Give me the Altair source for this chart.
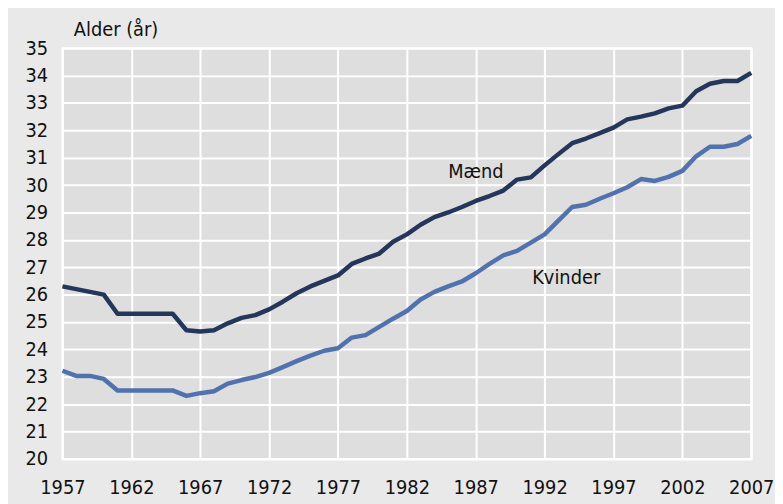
import altair as alt
import pandas as pd

years = list(range(1957, 2008))
maend = [26.3, 26.2, 26.1, 26.0, 25.3, 25.3, 25.3, 25.3, 25.3, 24.7,
         24.65, 24.7, 24.95, 25.15, 25.25, 25.46, 25.74, 26.05, 26.3, 26.5,
         26.7, 27.12, 27.32, 27.5, 27.93, 28.2, 28.55, 28.83, 29.0, 29.2,
         29.42, 29.6, 29.8, 30.2, 30.28, 30.72, 31.13, 31.53, 31.7, 31.9,
         32.1, 32.4, 32.5, 32.62, 32.8, 32.9, 33.43, 33.7, 33.8, 33.8, 34.1]
kvinder = [23.22, 23.03, 23.03, 22.92, 22.5, 22.5, 22.5, 22.5, 22.5, 22.3,
           22.4, 22.47, 22.75, 22.88, 22.99, 23.14, 23.35, 23.57, 23.77, 23.95,
           24.04, 24.43, 24.52, 24.82, 25.12, 25.4, 25.82, 26.1, 26.3, 26.48,
           26.78, 27.12, 27.43, 27.6, 27.9, 28.2, 28.7, 29.2, 29.28, 29.5,
           29.7, 29.92, 30.22, 30.15, 30.3, 30.52, 31.05, 31.4, 31.4, 31.5, 31.8]

series_names = ["Mænd", "Kvinder"]
series_colors = ["#24365a", "#5172ad"]
label_x = [1985.0, 1991.1]
label_y = [30.48, 26.6]
x_ticks = list(range(1957, 2008, 5))
y_ticks = list(range(20, 36))

FONT = "Liberation Sans Narrow, DejaVu Sans Condensed, sans-serif"

df = pd.DataFrame({
    "year": years * 2,
    "value": maend + kvinder,
    "serie": [series_names[0]] * len(years) + [series_names[1]] * len(years),
})
labels = pd.DataFrame({"year": label_x, "value": label_y, "text": series_names})

x_axis = alt.Axis(values=x_ticks, format="d", title=None, ticks=False, domain=False,
                  labelFlush=False, labelPadding=19, labelBaseline="top",
                  labelOverlap=False, grid=True, tickCount=len(x_ticks))
y_axis = alt.Axis(values=y_ticks, title="Alder (år)", ticks=False, domain=False,
                  labelPadding=15, grid=True, titleAngle=0, titleX=11, titleY=-13,
                  labelOverlap=False, labelFlush=False, tickCount=len(y_ticks),
                  titleAlign="left", titleBaseline="alphabetic")
x_scale = alt.Scale(domain=[1957, 2007], nice=False, zero=False)
y_scale = alt.Scale(domain=[20, 35], nice=False, zero=False)

lines = alt.Chart(df).mark_line(strokeWidth=4.5, strokeJoin="round").encode(
    x=alt.X("year:Q", scale=x_scale, axis=x_axis),
    y=alt.Y("value:Q", scale=y_scale, axis=y_axis),
    color=alt.Color("serie:N", scale=alt.Scale(domain=series_names, range=series_colors), legend=None),
)

text = alt.Chart(labels).mark_text(align="left", baseline="middle", fontSize=20, font=FONT,
                                   color="#111111").encode(
    x=alt.X("year:Q", scale=x_scale, axis=x_axis),
    y=alt.Y("value:Q", scale=y_scale, axis=y_axis),
    text="text:N")

chart = (lines + text).properties(
    width=696, height=415,
    autosize=alt.AutoSizeParams(type="none"),
    padding={"left": 55, "top": 38, "right": 24, "bottom": 45},
    background="#e9e9e9",
).configure_view(
    fill="#dedede", stroke="white", strokeWidth=2
).configure_axis(
    gridColor="white", gridWidth=2, gridOpacity=1,
    labelFont=FONT, labelFontSize=20, labelColor="#111111",
    titleFont=FONT, titleFontSize=20, titleColor="#111111", titleFontWeight="normal",
)

chart.save("out.html", embed_options={"renderer": "svg", "actions": False})
